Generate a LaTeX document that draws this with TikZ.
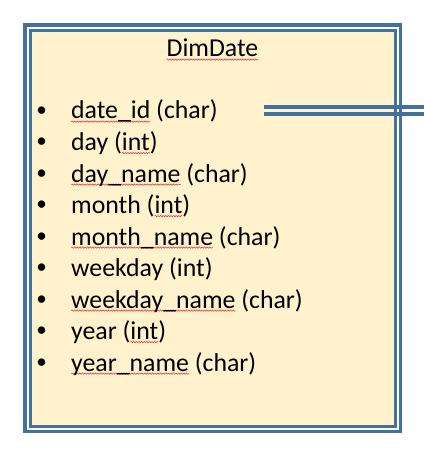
\documentclass[tikz,border=0pt]{standalone}
\usepackage{fontspec}
\setmainfont{Carlito}
\usetikzlibrary{decorations.pathmorphing}
\definecolor{bordblue}{HTML}{41719C}
\definecolor{cream}{HTML}{FFF2CC}
\definecolor{squig}{HTML}{E03C3C}
\tikzset{
  sqline/.style={draw=squig,line width=0.55pt,decorate,decoration={snake,amplitude=0.7pt,segment length=2.6pt}},
  row/.style={anchor=base west,inner sep=0pt,font=\fontsize{25.8}{31}\selectfont},
  bul/.style={anchor=center,inner sep=0pt,font=\fontsize{21}{25}\selectfont},
  title/.style={anchor=base,inner sep=0pt,font=\fontsize{25.8}{31}\selectfont},
  outerbox/.style={draw=bordblue,line width=3.5pt,fill=white},
  innerbox/.style={draw=bordblue,line width=3pt,fill=cream},
  link/.style={draw=bordblue,line width=3.6pt}
}
\newcommand\sq[1]{\setbox0=\hbox{#1}\rlap{\tikz[overlay,baseline=0pt]{\path[sqline] (0pt,-2.6pt) -- (\wd0,-2.6pt);}}\box0\relax}
\begin{document}
\begin{tikzpicture}[x=1pt,y=-1pt]
\useasboundingbox (0,0) rectangle (424,457);
\path[outerbox] (25,25) rectangle (400.5,431.5);
\path[innerbox] (30.5,30.5) rectangle (395.5,426.5);
\node[title] (title) at (212.5,57) {\sq{DimDate}};
\foreach \name/\txt [count=\i from 0] in {
  r1/{\sq{date\_id} (char)},
  r2/{day (\sq{int})},
  r3/{\sq{day\_name} (char)},
  r4/{month (\sq{int})},
  r5/{\sq{month\_name} (char)},
  r6/{weekday (int)},
  r7/{\sq{weekday\_name} (char)},
  r8/{year (\sq{int})},
  r9/{\sq{year\_name} (char)}}{
  \node[bul] (b\name) at (41.5,111.5+31.5*\i) {•};
  \node[row] (\name) at (71,119+31.5*\i) {\txt};
}
\coordinate (la1) at (264,107);
\coordinate (lb1) at (424,107);
\coordinate (la2) at (264,114.2);
\coordinate (lb2) at (424,114.2);
\path[link] (la1) -- (lb1);
\path[link] (la2) -- (lb2);
\end{tikzpicture}
\end{document}
